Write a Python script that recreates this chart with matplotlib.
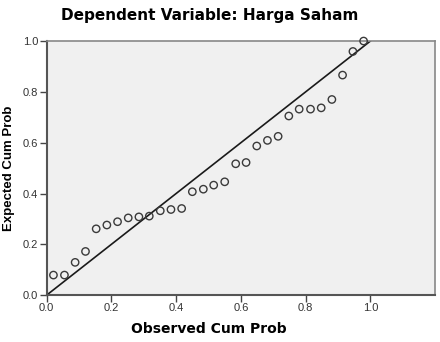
import matplotlib
matplotlib.use("Agg")
import matplotlib.pyplot as plt

plt.rcParams['font.family'] = ['Liberation Sans', 'DejaVu Sans']

title = "Dependent Variable: Harga Saham"
x_label = "Observed Cum Prob"
y_label = "Expected Cum Prob"

observed = [0.021, 0.055, 0.088, 0.120, 0.153, 0.186, 0.219, 0.252, 0.285, 0.317,
            0.351, 0.384, 0.417, 0.450, 0.484, 0.516, 0.550, 0.584, 0.616, 0.649,
            0.682, 0.715, 0.748, 0.780, 0.815, 0.848, 0.881, 0.914, 0.946, 0.979]
expected = [0.079, 0.079, 0.129, 0.172, 0.261, 0.276, 0.289, 0.304, 0.308, 0.311,
            0.332, 0.337, 0.341, 0.407, 0.417, 0.433, 0.446, 0.517, 0.522, 0.587,
            0.609, 0.625, 0.705, 0.732, 0.732, 0.737, 0.770, 0.866, 0.959, 1.000]
ref_line = [0.0, 1.0]
x_ticks = [0.0, 0.2, 0.4, 0.6, 0.8, 1.0]
y_ticks = [0.0, 0.2, 0.4, 0.6, 0.8, 1.0]

fig = plt.figure(figsize=(4.4, 3.42), dpi=100)
ax = fig.add_axes([0.106, 0.137, 0.883, 0.743])
ax.set_facecolor('#f0f0f0')

ax.plot(ref_line, ref_line, color='#1a1a1a', lw=1.2, zorder=2)
ax.scatter(observed, expected, s=28, facecolors='none', edgecolors='#3a3a3a',
           linewidths=1.0, zorder=3, clip_on=False)

ax.set_xlim(0, 1.2)
ax.set_ylim(0, 1.0)
ax.set_xticks(x_ticks)
ax.set_yticks(y_ticks)
ax.set_xticklabels([f"{v:.1f}" for v in x_ticks])
ax.set_yticklabels([f"{v:.1f}" for v in y_ticks])
ax.tick_params(axis='both', direction='out', length=5, width=1, colors='#444444',
               labelsize=8, labelcolor='#333333', pad=1)

for side in ['left', 'bottom']:
    ax.spines[side].set_color('#555555')
    ax.spines[side].set_linewidth(1.5)
for side in ['top', 'right']:
    ax.spines[side].set_color('#888888')
    ax.spines[side].set_linewidth(1.2)

ax.set_xlabel(x_label, fontsize=10, fontweight='bold', family='DejaVu Sans')
ax.xaxis.set_label_coords(0.5 / 1.2, -0.105)
ax.set_ylabel(y_label, fontsize=9.5, fontweight='bold', labelpad=6)
fig.text(0.477, 0.955, title, fontsize=11, fontweight='bold', family='DejaVu Sans',
         ha='center', va='center')

fig.savefig("out.png", dpi=100, facecolor='white')
